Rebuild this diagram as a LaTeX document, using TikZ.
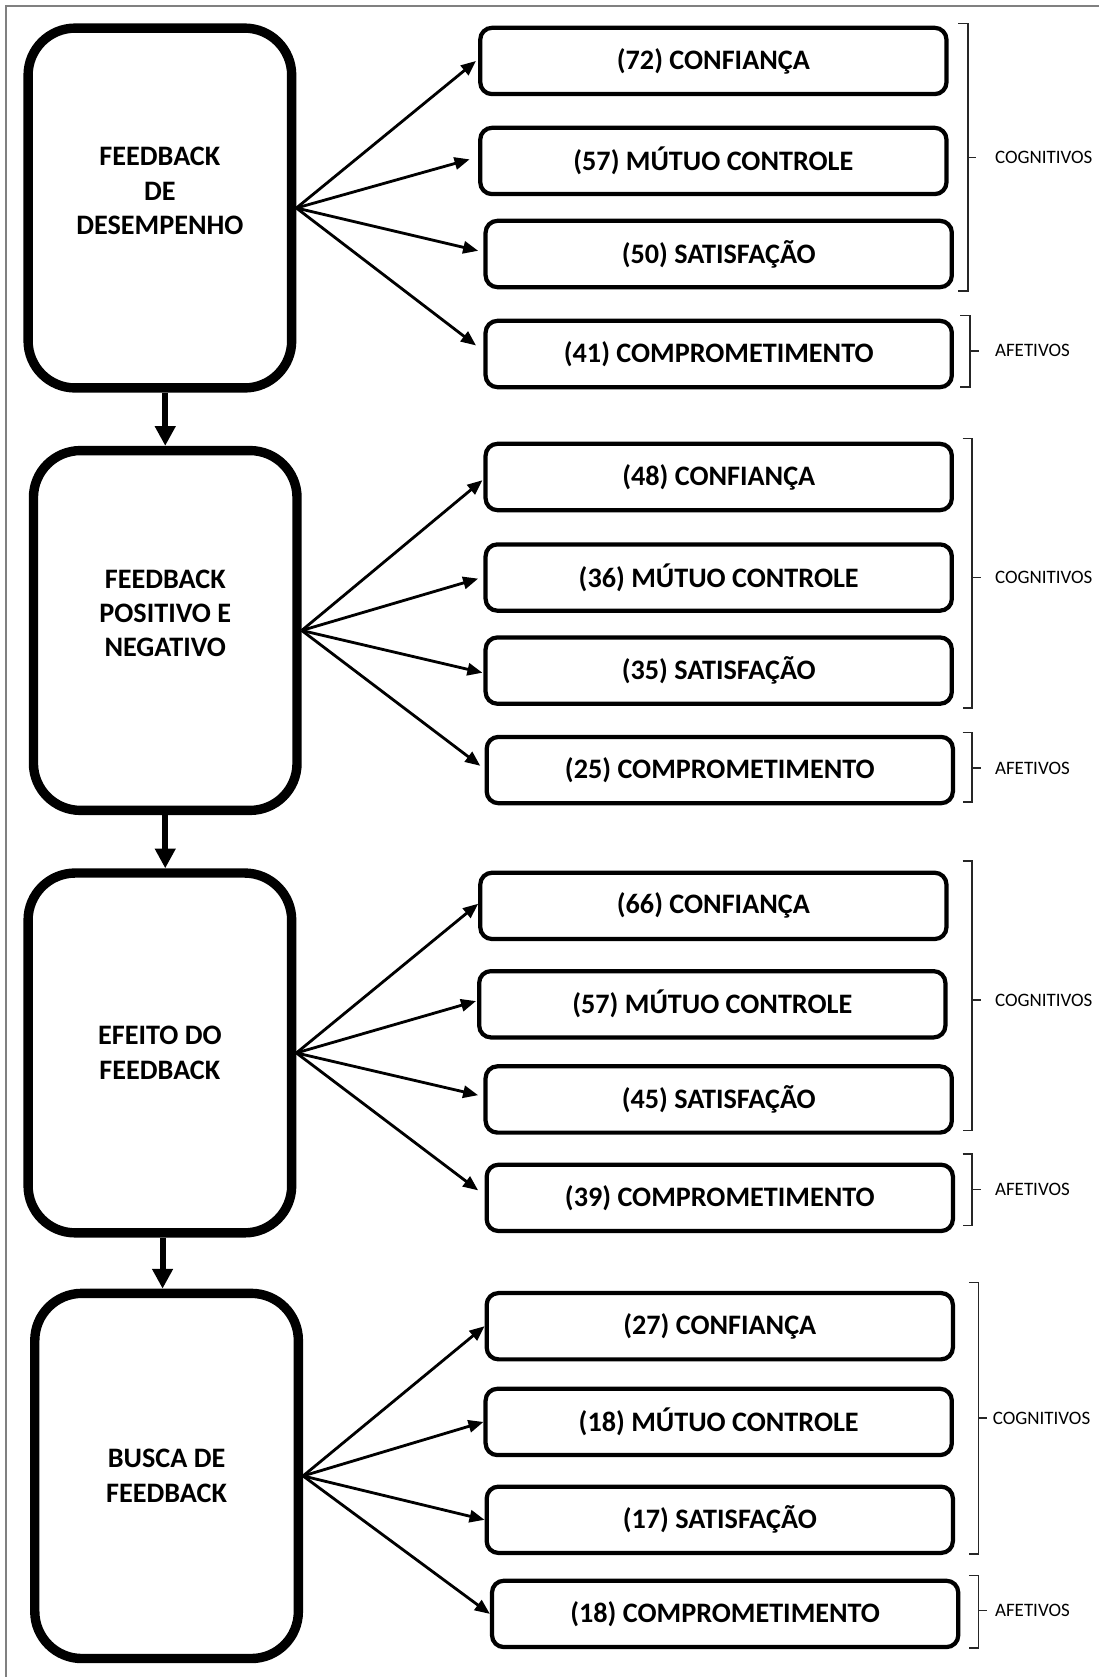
\documentclass[tikz,border=0pt]{standalone}
\usepackage{fontspec}
\setmainfont{Carlito}
\usetikzlibrary{arrows.meta,calc}
\begin{document}
\begin{tikzpicture}[x=0.02cm,y=-0.02cm,
  mainbox/.style={draw, line width=5pt, rounded corners=0.88cm,
    minimum width=4.93cm, minimum height=6.73cm, align=center, inner sep=0pt,
    font=\fontsize{15}{18.2}\selectfont\bfseries},
  itembox/.style={draw, line width=2.25pt, rounded corners=0.22cm,
    minimum width=8.72cm, minimum height=1.24cm, inner sep=0pt,
    font=\fontsize{15}{18}\selectfont\bfseries},
  link/.style={line width=1.5pt, -{Triangle[length=8pt,width=6.5pt]}},
  down/.style={line width=3.2pt, -{Triangle[length=10.5pt,width=10.5pt]}},
  bracket/.style={line width=0.75pt, draw=black!85},
  tag/.style={anchor=west, inner sep=0pt, font=\fontsize{10.1}{12}\selectfont},
]
\useasboundingbox (0,0) rectangle (1028,1568);
\draw[gray, line width=1pt] (5.6,1568) -- (5.6,5.6) -- (1028,5.6);

% left column
\node[mainbox] (B1) at (149.5,194.5) {FEEDBACK\\DE\\DESEMPENHO\\\mbox{}};
\node[mainbox] (B2) at (154.5,589.5) {FEEDBACK\\POSITIVO E\\NEGATIVO\\\mbox{}};
\node[mainbox] (B3) at (149.5,984.5) {EFEITO DO\\FEEDBACK};
\node[mainbox, minimum height=6.83cm] (B4) at (155.75,1380) {BUSCA DE\\FEEDBACK};

\draw[down] (B2.north |- B1.south) -- (B2.north);
\draw[down] (B2.south) -- (B2.south |- B3.north);
\draw[down] (B3.south -| 152,0) -- (B4.north -| 152,0);

% group 1
\node[itembox] (s11) at (667,57)    {(72) CONFIANÇA};
\node[itembox] (s12) at (667,150.5) {(57) MÚTUO CONTROLE};
\node[itembox] (s13) at (672,237.5) {(50) SATISFAÇÃO};
\node[itembox] (s14) at (672,331)   {(41) COMPROMETIMENTO};
% group 2
\node[itembox] (s21) at (672,446)  {(48) CONFIANÇA};
\node[itembox] (s22) at (672,540)  {(36) MÚTUO CONTROLE};
\node[itembox] (s23) at (672,627)  {(35) SATISFAÇÃO};
\node[itembox] (s24) at (673,720)  {(25) COMPROMETIMENTO};
% group 3
\node[itembox] (s31) at (667,847)  {(66) CONFIANÇA};
\node[itembox] (s32) at (666,939)  {(57) MÚTUO CONTROLE};
\node[itembox] (s33) at (672,1028) {(45) SATISFAÇÃO};
\node[itembox] (s34) at (673,1120) {(39) COMPROMETIMENTO};
% group 4
\node[itembox] (s41) at (673,1240)   {(27) CONFIANÇA};
\node[itembox] (s42) at (672,1329.5) {(18) MÚTUO CONTROLE};
\node[itembox] (s43) at (673,1421)   {(17) SATISFAÇÃO};
\node[itembox] (s44) at (678,1509)   {(18) COMPROMETIMENTO};

% fan-out arrows
\draw[link] (B1.east) -- ($(s11.west)+(-2,0)$);
\draw[link] (B1.east) -- ($(s12.west)+(-8,-1.5)$);
\draw[link] (B1.east) -- ($(s13.west)+(-5,-3)$);
\draw[link] (B1.east) -- ($(s14.west)+(-7,-8)$);

\draw[link] (B2.east) -- ($(s21.west)+(-1,3)$);
\draw[link] (B2.east) -- ($(s22.west)+(-5,1)$);
\draw[link] (B2.east) -- ($(s23.west)+(-1,2)$);
\draw[link] (B2.east) -- ($(s24.west)+(-4,-4)$);

\draw[link] (B3.east) -- ($(s31.west)+(0,-2)$);
\draw[link] (B3.east) -- ($(s32.west)+(-1,-3)$);
\draw[link] (B3.east) -- ($(s33.west)+(-5,-4)$);
\draw[link] (B3.east) -- ($(s34.west)+(-6,-7)$);

\draw[link] (B4.east) -- (s41.west);
\draw[link] (B4.east) -- (s42.west);
\draw[link] (B4.east) -- (s43.west);
\draw[link] (B4.east) -- (s44.west);

% brackets with their labels
\draw[bracket] (896,22) -- (905,22) -- (905,272) -- (896,272) (905,147) -- (913,147);
\node[tag] (c1) at (930,147) {COGNITIVOS};
\draw[bracket] (898,295) -- (907,295) -- (907,362) -- (898,362) (907,328) -- (915,328);
\node[tag] (a1) at (930,328) {AFETIVOS};

\draw[bracket] (900,410) -- (909,410) -- (909,662) -- (900,662) (909,540) -- (917,540);
\node[tag] (c2) at (930,540) {COGNITIVOS};
\draw[bracket] (900,685) -- (909,685) -- (909,750) -- (900,750) (909,718) -- (917,718);
\node[tag] (a2) at (930,718) {AFETIVOS};

\draw[bracket] (900,805) -- (909,805) -- (909,1057) -- (900,1057) (909,935) -- (917,935);
\node[tag] (c3) at (930,935) {COGNITIVOS};
\draw[bracket] (900,1079) -- (909,1079) -- (909,1146) -- (900,1146) (909,1112) -- (917,1112);
\node[tag] (a3) at (930,1112) {AFETIVOS};

\draw[bracket] (906,1199) -- (915,1199) -- (915,1453) -- (906,1453) (915,1326) -- (923,1326);
\node[tag] (c4) at (928,1326) {COGNITIVOS};
\draw[bracket] (906,1473) -- (915,1473) -- (915,1541) -- (906,1541) (915,1506) -- (923,1506);
\node[tag] (a4) at (930,1506) {AFETIVOS};
\end{tikzpicture}
\end{document}
